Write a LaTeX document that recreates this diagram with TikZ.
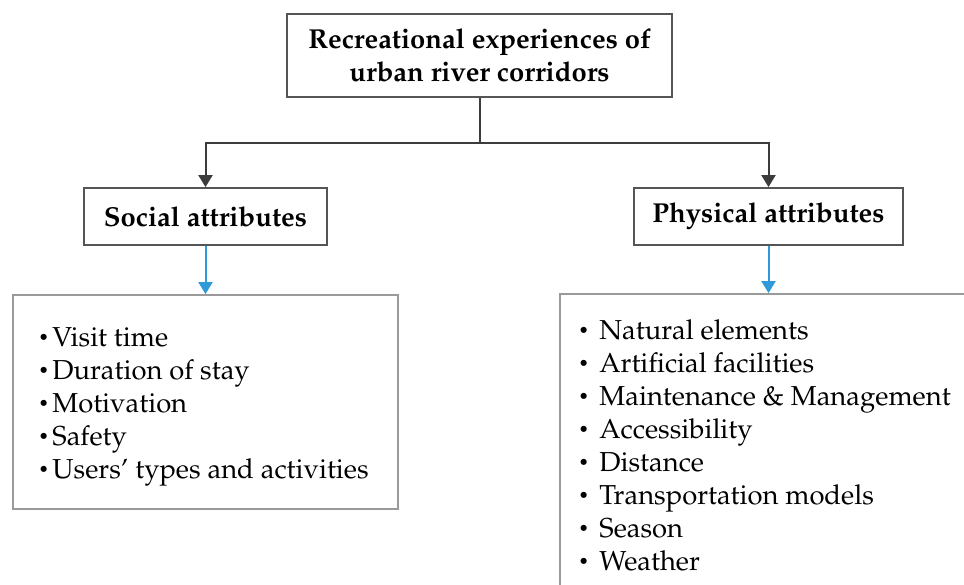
\documentclass[tikz,border=0pt]{standalone}
\usepackage[T1]{fontenc}
\usepackage{mathpazo}
\usepackage{graphicx}
\usetikzlibrary{arrows.meta}
\definecolor{linegray}{HTML}{3C3C3C}
\definecolor{boxgray}{HTML}{555555}
\definecolor{listgray}{HTML}{9A9A9A}
\definecolor{arrowblue}{HTML}{2E9AD8}
\newcommand{\smallbul}{\raisebox{0.1em}{\scalebox{0.65}{\textbullet}}}
\tikzset{
  headbox/.style={draw=boxgray, line width=0.9pt, fill=white, inner sep=0pt, align=center,
    font=\fontsize{13.7}{16.3}\selectfont\bfseries},
  listbox/.style={draw=listgray, line width=0.9pt, inner sep=0pt},
  item/.style={inner sep=0pt, anchor=base west, font=\fontsize{13.7}{16.5}\selectfont},
  darkline/.style={draw=linegray, line width=1pt},
  darkarr/.style={darkline, -{Triangle[width=7pt,length=6pt]}},
  bluearr/.style={draw=arrowblue, line width=1pt, -{Triangle[width=7pt,length=6pt]}}
}
\begin{document}
\begin{tikzpicture}[x=0.5pt,y=-0.5pt]
\useasboundingbox (0,0) rectangle (964,584);
\clip (0,0) rectangle (964,584);
% boxes
\node[headbox, minimum width=192.5pt, minimum height=41.5pt] (top) at (479.5,55.5)
  {Recreational experiences of\\urban river corridors};
\node[headbox, minimum width=121.5pt, minimum height=28.5pt] (social) at (205.5,216.5) {Social attributes};
\node[headbox, minimum width=134.5pt, minimum height=28.5pt] (phys) at (768.5,216.5) {Physical attributes};
\node[listbox, minimum width=192.5pt, minimum height=107pt] (slist) at (205.5,402) {};
\node[listbox, minimum width=225pt, minimum height=173pt] (plist) at (785,467) {};
% list items
\foreach \t [count=\i] in {Visit time, Duration of stay, Motivation, Safety, Users' types and activities}
  \node[item] (s\i) at (38,{346+33*(\i-1)}) {\makebox[7pt][l]{\smallbul}\t};
\foreach \t [count=\i] in {Natural elements, Artificial facilities, Maintenance \& Management, Accessibility, Distance, Transportation models, Season, Weather}
  \node[item] (p\i) at (578,{339+33*(\i-1)}) {\makebox[10.5pt][l]{\smallbul}\t};
% connectors
\draw[darkline] (top.south) -- (top.south |- 0,143) coordinate (j);
\draw[darkarr] (j) -| (social.north);
\draw[darkarr] (j) -| (phys.north);
\draw[bluearr] (social.south) -- (slist.north -| social.south);
\draw[bluearr] (phys.south) -- (plist.north -| phys.south);
\end{tikzpicture}
\end{document}
